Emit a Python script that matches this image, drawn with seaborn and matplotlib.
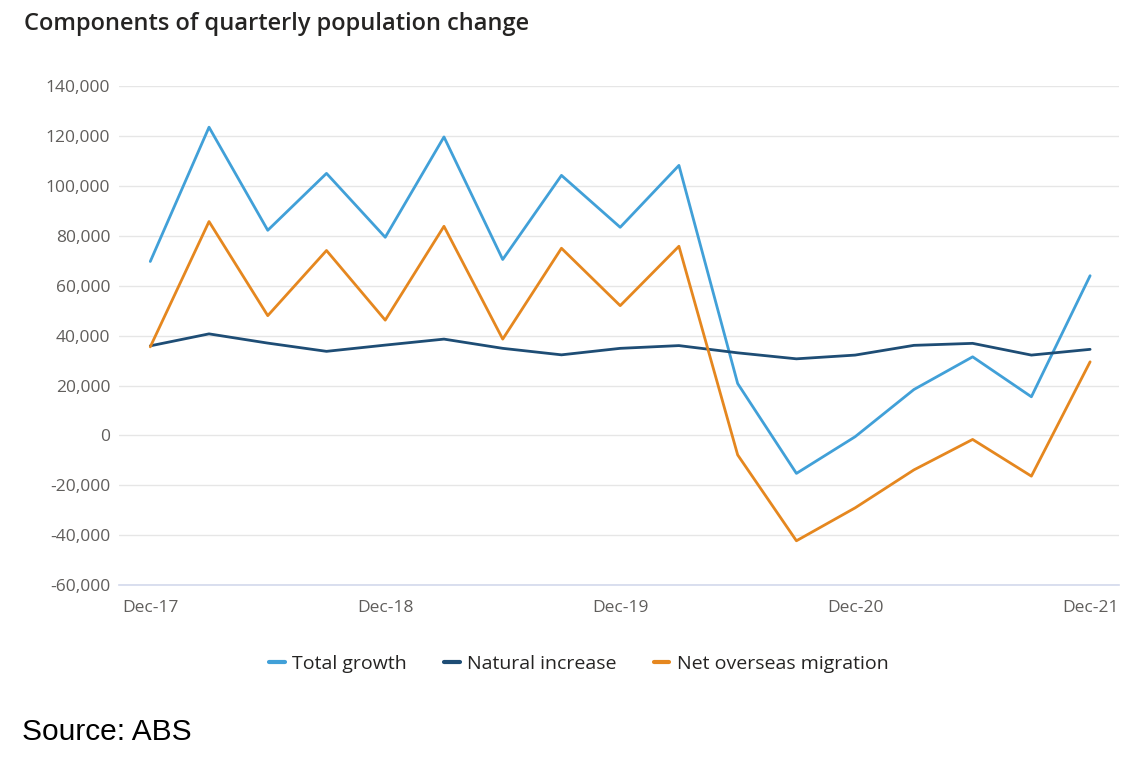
import numpy as np
import pandas as pd
import matplotlib
matplotlib.use("Agg")
import matplotlib.pyplot as plt
import seaborn as sns

# quarters Dec-17 .. Dec-21
quarters = ["Dec-17", "Mar-18", "Jun-18", "Sep-18", "Dec-18", "Mar-19", "Jun-19",
            "Sep-19", "Dec-19", "Mar-20", "Jun-20", "Sep-20", "Dec-20", "Mar-21",
            "Jun-21", "Sep-21", "Dec-21"]
tick_labels = ["Dec-17", "Dec-18", "Dec-19", "Dec-20", "Dec-21"]

total_growth = [69700, 123500, 82200, 105000, 79400, 119600, 70500, 104200, 83400,
                108200, 20800, -15200, -500, 18400, 31500, 15500, 64000]
natural_increase = [35900, 40700, 37000, 33700, 36200, 38600, 34900, 32300, 34900,
                    36000, 33100, 30700, 32200, 36100, 36900, 32200, 34500]
net_overseas = [35500, 85700, 48000, 74100, 46200, 83800, 38600, 75000, 52000,
                75800, -7800, -42200, -29000, -13800, -1600, -16300, 29500]

series_names = ["Total growth", "Natural increase", "Net overseas migration"]
colours = ["#41A0D8", "#1E4D75", "#E5871F"]

df = pd.DataFrame({
    "q": np.tile(np.arange(len(quarters)), 3),
    "value": total_growth + natural_increase + net_overseas,
    "series": np.repeat(series_names, len(quarters)),
})

sns.set_theme(style="white")
plt.rcParams["font.family"] = ["Open Sans", "DejaVu Sans"]

fig = plt.figure(figsize=(11.4, 7.68), dpi=100)
ax = fig.add_axes([0.104, 0.238, 0.878, 0.65])

sns.lineplot(data=df, x="q", y="value", hue="series", palette=colours,
             hue_order=series_names, linewidth=2.0, ax=ax, legend=True)

ax.set_ylim(-60000, 140000)
ax.set_xlim(-0.54, 16.5)
ax.set_yticks(np.arange(-60000, 140001, 20000))
ax.yaxis.set_major_formatter(matplotlib.ticker.FuncFormatter(lambda v, p: f"{int(v):,}"))
ax.set_xticks([0, 4, 8, 12, 16])
ax.set_xticklabels(tick_labels)
ax.tick_params(axis="both", length=0, labelsize=12.5, labelcolor="#605E5C")
ax.tick_params(axis="x", pad=11)
ax.tick_params(axis="y", pad=6)
ax.grid(axis="y", color="#E6E6E6", linewidth=1)
ax.set_axisbelow(True)
for s in ["top", "right", "left"]:
    ax.spines[s].set_visible(False)
ax.spines["bottom"].set_color("#D3D9EC")
ax.spines["bottom"].set_linewidth(1.2)
ax.set_xlabel("")
ax.set_ylabel("")

leg = ax.legend(loc="upper center", bbox_to_anchor=(0.46, -0.105), ncol=3, frameon=False,
                prop={"family": ["Open Sans"], "size": 14, "weight": "medium"},
                handlelength=0.8, handletextpad=0.4, columnspacing=1.9)
for t in leg.get_texts():
    t.set_color("#252423")
for h in leg.legend_handles:
    h.set_linewidth(3)

fig.text(0.021, 0.969, "Components of quarterly population change", fontsize=17,
         fontweight="semibold", color="#252423", va="center", ha="left")
fig.text(0.019, 0.047, "Source: ABS", fontsize=21.5, family="Liberation Sans",
         color="black", va="center", ha="left")

fig.savefig("out.png", dpi=100, facecolor="white")
